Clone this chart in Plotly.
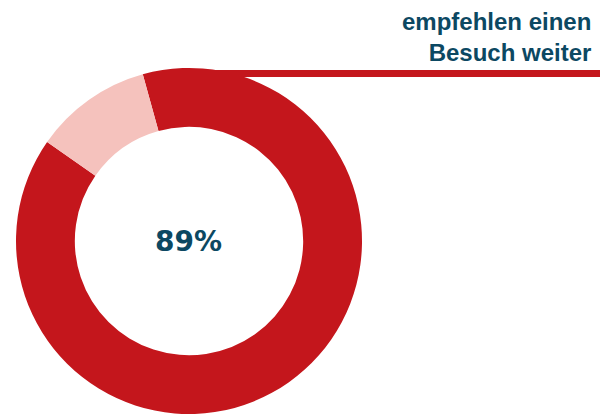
import plotly.graph_objects as go

labels = ["empfehlen einen Besuch weiter", "andere"]
values = [89, 11]
colors = ["#c4161c", "#f5c2bd"]
center_label = "89%"
header_lines = ["empfehlen einen", "Besuch weiter"]

W, H = 609, 416
OFF = 8  # page body margin offset
cx, cy, r = 189 - OFF, 241 - OFF, 173

fig = go.Figure(go.Pie(
    labels=labels, values=values, sort=False, direction="clockwise",
    rotation=-15.5, hole=0.66, textinfo="none", hoverinfo="label+percent",
    marker=dict(colors=colors, line=dict(width=0)),
    domain=dict(x=[(cx - r) / W, (cx + r) / W], y=[(H - cy - r) / H, (H - cy + r) / H]),
    showlegend=False,
))

ly = 73.5 - OFF
fig.add_shape(type="line", xref="paper", yref="paper",
              x0=cx / W, x1=(600 - OFF) / W, y0=(H - ly) / H, y1=(H - ly) / H,
              line=dict(color=colors[0], width=7))

fig.add_annotation(text=center_label, xref="paper", yref="paper",
                   x=(188 - OFF) / W, y=(H - (241 - OFF)) / H, xanchor="center", yanchor="middle",
                   showarrow=False,
                   font=dict(family="DejaVu Sans", size=28, color="#0c4862", weight="bold"))

fig.add_annotation(text="<br>".join(header_lines), xref="paper", yref="paper",
                   x=(593 - OFF) / W, y=(H - (36.5 - OFF)) / H, xanchor="right", yanchor="middle", align="right",
                   showarrow=False,
                   font=dict(family="Liberation Sans, Arial", size=24, color="#0c4862", weight="bold"))

fig.update_layout(width=W, height=H, margin=dict(l=0, r=0, t=0, b=0),
                  paper_bgcolor="white", plot_bgcolor="white")

fig.write_html("out.html")
